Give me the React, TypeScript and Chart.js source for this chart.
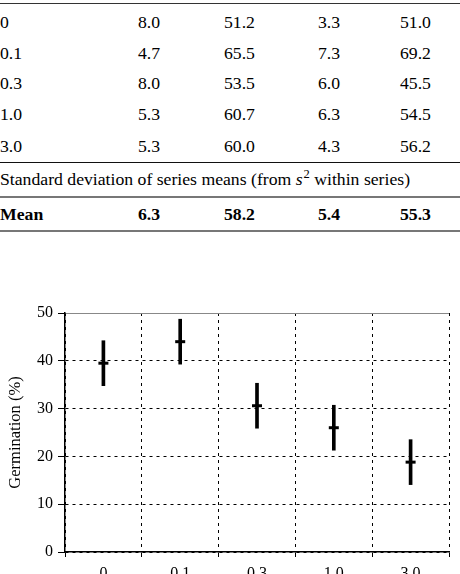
import React, { useEffect, useRef } from 'react';
import { Chart, registerables } from 'chart.js';

Chart.register(...registerables);

// Table: concentration rows, SD / mean pairs for two series
const concentrations = ['0', '0.1', '0.3', '1.0', '3.0'];
const sdSeries1 = [8.0, 4.7, 8.0, 5.3, 5.3];
const meanSeries1 = [51.2, 65.5, 53.5, 60.7, 60.0];
const sdSeries2 = [3.3, 7.3, 6.0, 6.3, 4.3];
const meanSeries2 = [51.0, 69.2, 45.5, 54.5, 56.2];
const columnMeans = [6.3, 58.2, 5.4, 55.3];

// Chart: germination mean and spread per concentration
const germinationMean = [39.5, 44.0, 30.6, 26.0, 18.8];
const germinationSd = [4.7, 4.7, 4.7, 4.7, 4.7];
const yTicks = [0, 10, 20, 30, 40, 50];

const SERIF = '"Liberation Serif", "Times New Roman", serif';
const FS = 17.7;
const colX = [138, 224, 318, 400];
const rowY = [23, 53.5, 84, 114.5, 146.5];

function Cell({ x, y, text, bold }: { x: number; y: number; text: string; bold?: boolean }) {
  return (
    <span
      style={{
        position: 'absolute',
        left: x,
        top: y - FS / 2,
        lineHeight: `${FS}px`,
        fontSize: FS,
        fontWeight: bold ? 'bold' : 'normal',
        whiteSpace: 'nowrap',
      }}
    >
      {text}
    </span>
  );
}

function Rule({ y, h, color }: { y: number; h: number; color: string }) {
  return <div style={{ position: 'absolute', left: 0, top: y, width: 460, height: h, background: color }} />;
}

export default function App() {
  const canvasRef = useRef<HTMLCanvasElement | null>(null);

  useEffect(() => {
    const canvas = canvasRef.current;
    if (!canvas) return;
    const ranges = germinationMean.map((m, i) => [m - germinationSd[i], m + germinationSd[i]]);
    const chart = new Chart(canvas, {
      type: 'bar',
      data: {
        labels: concentrations,
        datasets: [
          {
            type: 'bar',
            data: ranges as any,
            backgroundColor: '#000',
            borderWidth: 0,
            barThickness: 3,
            grouped: false,
          },
          {
            type: 'line',
            data: germinationMean,
            showLine: false,
            pointStyle: 'line',
            pointRadius: 5,
            pointBorderWidth: 3,
            borderColor: '#000',
            backgroundColor: '#000',
          } as any,
        ],
      },
      options: {
        responsive: false,
        animation: false,
        layout: { padding: { top: 23, right: 11, left: 0, bottom: 0 } },
        plugins: { legend: { display: false }, tooltip: { enabled: false } },
        scales: {
          x: {
            offset: true,
            grid: {
              offset: true,
              color: (c: any) => (c.index === concentrations.length ? '#888' : '#000'),
              lineWidth: 1,
              tickLength: 5,
              tickColor: '#000',
            },
            border: {
              color: '#000',
              width: 1.5,
              dash: (c: any) => (c.index === concentrations.length ? [] : [3, 4]),
            } as any,
            ticks: { color: '#000', font: { family: SERIF, size: 16 }, padding: 7 },
            afterFit: (s: any) => {
              s.height = 38;
            },
          },
          y: {
            min: 0,
            max: 50,
            afterBuildTicks: (s: any) => {
              s.ticks = yTicks.map((v) => ({ value: v }));
            },
            grid: {
              color: (c: any) => (c.tick && c.tick.value === 50 ? '#888' : '#000'),
              lineWidth: 1,
              tickLength: 7,
              tickColor: '#000',
            },
            border: {
              color: '#000',
              width: 1.5,
              dash: (c: any) => (c.tick && c.tick.value === 50 ? [] : [3, 4]),
            } as any,
            ticks: { color: '#000', font: { family: SERIF, size: 16 }, padding: 5 },
            title: {
              display: true,
              text: 'Germination (%)',
              color: '#000',
              font: { family: SERIF, size: 16.5 },
              padding: { top: 6, bottom: 0 },
            },
            afterFit: (s: any) => {
              s.width = 65;
            },
          },
        },
      },
    });
    return () => chart.destroy();
  }, []);

  return (
    <div style={{ position: 'absolute', left: 0, top: 0, width: 460, height: 600, fontFamily: SERIF, color: '#000' }}>
      <Rule y={2.5} h={1.5} color="#333" />
      {concentrations.map((c, i) => (
        <React.Fragment key={c}>
          <Cell x={0} y={rowY[i]} text={c} />
          <Cell x={colX[0]} y={rowY[i]} text={sdSeries1[i].toFixed(1)} />
          <Cell x={colX[1]} y={rowY[i]} text={meanSeries1[i].toFixed(1)} />
          <Cell x={colX[2]} y={rowY[i]} text={sdSeries2[i].toFixed(1)} />
          <Cell x={colX[3]} y={rowY[i]} text={meanSeries2[i].toFixed(1)} />
        </React.Fragment>
      ))}
      <Rule y={162} h={1.2} color="#111" />
      <span
        style={{
          position: 'absolute',
          left: 0,
          top: 180 - FS / 2,
          lineHeight: `${FS}px`,
          fontSize: FS,
          whiteSpace: 'nowrap',
        }}
      >
        Standard deviation of series means (from <i>s</i>
        <span style={{ fontSize: 12.5, position: 'relative', top: -7, marginLeft: 1 }}>2</span> within series)
      </span>
      <Rule y={196} h={1.8} color="#777" />
      <Cell x={0} y={214.5} text="Mean" bold />
      {columnMeans.map((m, i) => (
        <Cell key={i} x={colX[i]} y={214.5} text={m.toFixed(1)} bold />
      ))}
      <Rule y={230} h={1.8} color="#777" />
      <canvas
        ref={canvasRef}
        width={460}
        height={300}
        style={{ position: 'absolute', left: 0, top: 290, width: 460, height: 300, display: 'block' }}
      />
    </div>
  );
}
